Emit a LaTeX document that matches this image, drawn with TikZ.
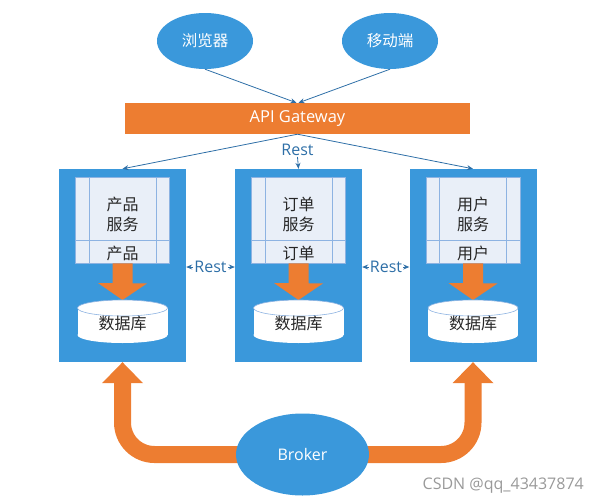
\documentclass[tikz,border=0pt]{standalone}
\usepackage{fontspec}
\setmainfont{Open Sans}
\newfontfamily\cjk{Noto Sans CJK SC}
\usetikzlibrary{arrows.meta,shapes.geometric}
\definecolor{mblue}{HTML}{3A98DB}
\definecolor{morange}{HTML}{ED7D31}
\definecolor{lineblue}{HTML}{2E6FA7}
\definecolor{pale}{HTML}{E9EFF8}
\definecolor{paleborder}{HTML}{8DB3E2}
\tikzset{
  client/.style={ellipse,fill=mblue,minimum width=96pt,minimum height=56pt,inner sep=0pt,text=white,font=\cjk\fontsize{15.5}{18}\selectfont},
  svcbox/.style={fill=mblue,minimum width=127pt,minimum height=193pt,inner sep=0pt},
  tbl/.style={fill=pale,draw=paleborder,line width=0.8pt,minimum width=94pt,minimum height=86pt,inner sep=0pt},
  link/.style={draw=lineblue,line width=0.8pt,-{Stealth[length=6pt,width=5pt]}},
  restlbl/.style={text=lineblue,font=\fontsize{16}{18}\selectfont,inner sep=1pt},
  cjktxt/.style={font=\cjk\fontsize{16}{18}\selectfont,text=black!85,inner sep=0pt},
  fatarrow/.style={draw=morange,line width=17pt},
}
\begin{document}
\begin{tikzpicture}[x=1pt,y=-1pt]
\useasboundingbox (0,0) rectangle (598,504);
% clients
\node[client] (browser) at (205,41) {浏览器};
\node[client] (mobile) at (390,41) {移动端};
% gateway
\node[fill=morange,minimum width=345pt,minimum height=31pt,inner sep=0pt,text=white,font=\fontsize{16.5}{18}\selectfont] (gw) at (297.5,118.5) {API Gateway};
\draw[link] (browser.south) -- ([xshift=-1pt]gw.north);
\draw[link] (mobile.south) -- ([xshift=1pt]gw.north);
% service boxes
\foreach \n/\x/\a in {l/122.5/产品, m/298.5/订单, r/473/用户}{
  \node[svcbox] (\n box) at (\x,265.5) {};
  \node[tbl] (\n tbl) at (\x,220) {};
  \draw[paleborder,line width=0.8pt] ([xshift=14pt]\n tbl.north west) -- ([xshift=14pt]\n tbl.south west);
  \draw[paleborder,line width=0.8pt] ([xshift=-14pt]\n tbl.north east) -- ([xshift=-14pt]\n tbl.south east);
  \draw[paleborder,line width=0.8pt] ([yshift=-64pt]\n tbl.north west) -- ([yshift=-64pt]\n tbl.north east);
  \node[cjktxt] (\n t1) at (\x,204) {\a};
  \node[cjktxt] (\n t2) at (\x,224) {服务};
  \node[cjktxt] (\n t3) at (\x,253) {\a};
  % orange arrow down
  \fill[morange] ([xshift=-10pt]\n tbl.south) -- ++(20,0) -- ++(0,20) -- ++(14.5,0) -- (\x,300) -- ++(-24.5,-17) -- ++(14.5,0) -- cycle;
  % cylinder
  \fill[white] (\x-45,308) rectangle (\x+45,335);
  \fill[white] (\x,335) ellipse[x radius=45,y radius=8];
  \fill[white] (\x,308) ellipse[x radius=45,y radius=8];
  \draw[paleborder,line width=0.6pt] (\x,308) ellipse[x radius=45,y radius=8];
  \node[cjktxt] (\n db) at (\x,323) {数据库};
}
% gateway to services
\draw[link] (gw.south) -- (lbox.north);
\draw[link] (gw.south) -- (rbox.north);
\node[restlbl] (rest0) at (297.5,150) {Rest};
\draw[link] (rest0.south) -- (mbox.north);
% rest between services
\node[restlbl] (rest1) at (210.5,267) {Rest};
\node[restlbl] (rest2) at (386,267) {Rest};
\draw[link] (rest1.west) -- (rest1.west -| lbox.east);
\draw[link] (rest1.east) -- (rest1.east -| mbox.west);
\draw[link] (rest2.west) -- (rest2.west -| mbox.east);
\draw[link] (rest2.east) -- (rest2.east -| rbox.west);
% broker
\draw[fatarrow,rounded corners=32pt] (302.5,454.5) -- (lbox.south |- 302.5,454.5) -- ([yshift=-21pt]lbox.south);
\draw[fatarrow,rounded corners=32pt] (302.5,454.5) -- (rbox.south |- 302.5,454.5) -- ([yshift=-21pt]rbox.south);
\fill[morange] (lbox.south) -- ++(20.5,21) -- ++(-41,0) -- cycle;
\fill[morange] (rbox.south) -- ++(20.5,21) -- ++(-41,0) -- cycle;
\node[ellipse,fill=mblue,minimum width=133pt,minimum height=82pt,inner sep=0pt,text=white,font=\fontsize{16}{18}\selectfont] (broker) at (302.5,454.5) {Broker};
% watermark
\node[text=gray!80,font=\fontsize{16}{18}\selectfont,anchor=east,inner sep=0pt] (wm) at (584,486) {CSDN @qq\_43437874};
\end{tikzpicture}
\end{document}
